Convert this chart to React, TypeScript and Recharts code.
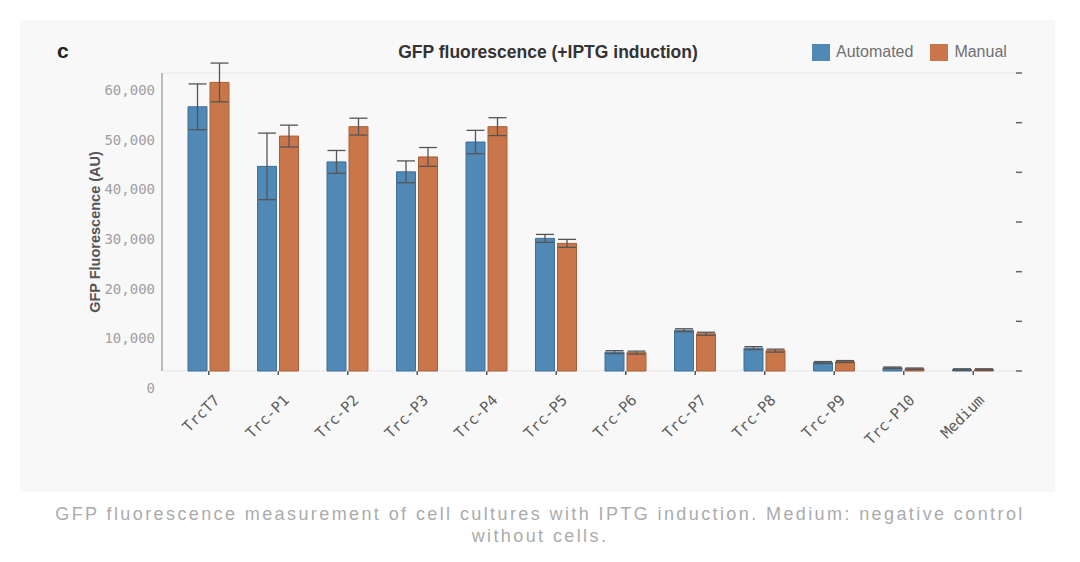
import { BarChart, Bar, XAxis, YAxis, CartesianGrid, ErrorBar } from "recharts";

const categories = ["TrcT7", "Trc-P1", "Trc-P2", "Trc-P3", "Trc-P4", "Trc-P5", "Trc-P6", "Trc-P7", "Trc-P8", "Trc-P9", "Trc-P10", "Medium"];
const automated = [53200, 41200, 42100, 40100, 46100, 26700, 3800, 8200, 4600, 1700, 650, 300];
const automatedErr = [4600, 6700, 2300, 2200, 2350, 800, 300, 300, 300, 200, 150, 150];
const manual = [58100, 47300, 49200, 43100, 49200, 25700, 3700, 7500, 4100, 1900, 450, 300];
const manualErr = [3900, 2200, 1700, 1900, 1800, 800, 300, 300, 300, 200, 150, 150];
const yTicks = [0, 10000, 20000, 30000, 40000, 50000, 60000];

const BLUE = "#5088b6";
const ORANGE = "#c9774a";
const MONO = "'DejaVu Sans Mono', monospace";
const SANS = "'Liberation Sans', Arial, sans-serif";

const data = categories.map((name, i) => ({
  name,
  automated: automated[i],
  automatedErr: automatedErr[i],
  manual: manual[i],
  manualErr: manualErr[i],
}));

// labels in the figure sit a bit below their gridlines
function YTick({ x, y, payload }: any) {
  return (
    <text x={x + 1} y={y + 17} dy="0.35em" textAnchor="end" fontFamily={MONO} fontSize={14} fill="#a0a0a0">
      {payload.value.toLocaleString("en-US")}
    </text>
  );
}

function XTick({ x, y, payload }: any) {
  const ax = x + 12;
  const ay = y + 24;
  return (
    <text x={ax} y={ay} textAnchor="end" transform={`rotate(-45, ${ax}, ${ay})`} fontFamily={MONO} fontSize={15} fill="#5c5c5c">
      {payload.value}
    </text>
  );
}

export default function App() {
  return (
    <div style={{ position: "relative", width: 1080, height: 562, margin: -8, background: "#fff", fontFamily: SANS }}>
      {/* error bar caps above the top gridline must not be clipped */}
      <style>{`.recharts-wrapper [clip-path] { clip-path: none; }`}</style>
      <div style={{ position: "absolute", left: 20, top: 20, width: 1035, height: 472, background: "#f8f8f8" }} />
      <div style={{ position: "absolute", left: 57, top: 39, fontSize: 21, fontWeight: 700, color: "#222" }}>c</div>
      <div style={{ position: "absolute", left: 0, width: 1096, top: 42, textAlign: "center", fontSize: 17.5, fontWeight: 700, color: "#333" }}>
        GFP fluorescence (+IPTG induction)
      </div>
      <div style={{ position: "absolute", left: 812, top: 43, display: "flex", alignItems: "center", fontSize: 16, color: "#707070" }}>
        <span style={{ width: 18, height: 17, background: BLUE, marginRight: 6 }} />
        <span style={{ marginRight: 17 }}>Automated</span>
        <span style={{ width: 18, height: 17, background: ORANGE, marginRight: 6 }} />
        <span>Manual</span>
      </div>
      <div
        style={{
          position: "absolute",
          left: 95,
          top: 232,
          transform: "translate(-50%, -50%) rotate(-90deg)",
          whiteSpace: "nowrap",
          fontSize: 14.5,
          fontWeight: 700,
          color: "#555",
        }}
      >
        GFP Fluorescence (AU)
      </div>
      <div style={{ position: "absolute", left: 0, top: 0 }}>
        <BarChart
          width={1080}
          height={492}
          data={data}
          margin={{ top: 73, right: 54, bottom: 21, left: 102 }}
          barSize={19}
          barGap={3}
        >
          <CartesianGrid vertical={false} stroke="#e6e6e6" strokeWidth={1} />
          <XAxis
            dataKey="name"
            interval={0}
            height={100}
            padding={{ left: 12, right: 8 }}
            axisLine={false}
            tickLine={{ stroke: "#555", strokeWidth: 1.5 }}
            tickSize={4}
            tick={<XTick />}
          />
          <YAxis
            yAxisId="left"
            width={60}
            domain={[0, 60000]}
            allowDataOverflow
            ticks={yTicks}
            axisLine={{ stroke: "#a8a8a8", strokeWidth: 1.5 }}
            tickLine={false}
            tick={<YTick />}
          />
          <YAxis
            yAxisId="right"
            orientation="right"
            width={10}
            domain={[0, 60000]}
            allowDataOverflow
            ticks={yTicks}
            axisLine={false}
            tickSize={6}
            tickLine={{ stroke: "#666", strokeWidth: 1.5 }}
            tickFormatter={() => ""}
          />
          <Bar yAxisId="left" dataKey="automated" fill={BLUE} stroke="#3f7099" strokeWidth={1} isAnimationActive={false}>
            <ErrorBar dataKey="automatedErr" direction="y" width={9} stroke="#555" strokeWidth={1.3} />
          </Bar>
          <Bar yAxisId="left" dataKey="manual" fill={ORANGE} stroke="#a9603a" strokeWidth={1} isAnimationActive={false}>
            <ErrorBar dataKey="manualErr" direction="y" width={9} stroke="#555" strokeWidth={1.3} />
          </Bar>
        </BarChart>
      </div>
      <div
        style={{
          position: "absolute",
          left: 40,
          width: 1000,
          top: 503,
          textAlign: "center",
          fontSize: 18,
          lineHeight: "22px",
          letterSpacing: 2.4,
          color: "#ababab",
        }}
      >
        GFP fluorescence measurement of cell cultures with IPTG induction. Medium: negative control without cells.
      </div>
    </div>
  );
}
